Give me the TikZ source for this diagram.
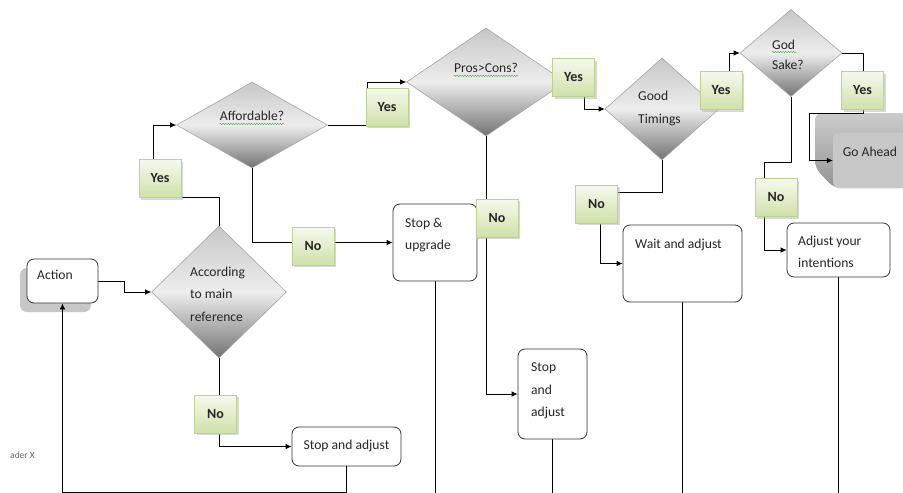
\documentclass[tikz,border=0pt]{standalone}
\usepackage{fontspec}
\setmainfont{Carlito}
\usetikzlibrary{shapes.geometric,arrows.meta,shadows,backgrounds,decorations.pathmorphing,calc}
\definecolor{labtop}{HTML}{F6F9EE}
\definecolor{labbot}{HTML}{CFE1A9}
\definecolor{labedge}{HTML}{BCD295}
\definecolor{squigc}{HTML}{3CA83C}
\begin{document}
\begin{tikzpicture}[x=1pt,y=-1pt,
  font=\fontsize{13.6}{22.5}\selectfont,
  conn/.style={draw=black, line width=0.8pt},
  arr/.style={conn, -{Latex[length=6pt,width=5.5pt]}},
  dia/.style={diamond, draw=black!35, line width=0.6pt, top color=black!22, bottom color=black!55, middle color=black!7, inner sep=0pt},
  lab/.style={draw=labedge, line width=0.6pt, top color=labtop, bottom color=labbot, minimum width=42pt, minimum height=38pt, inner sep=0pt, font=\fontsize{14}{15}\selectfont\bfseries, text=black!85,
    drop shadow={shadow xshift=2pt, shadow yshift=-2pt, fill=black!30, opacity=0.5}},
  box/.style={draw=black!80, line width=0.8pt, fill=white, rounded corners=7pt, inner sep=0pt},
  txt/.style={text=black!85, inner sep=0pt, align=left},
  squig/.style={draw=squigc, line width=0.4pt, decorate, decoration={snake, amplitude=0.6pt, segment length=2.6pt}}
]
\useasboundingbox (0,0) rectangle (903,493);

% ---------- boxes ----------
\node[box, minimum width=71pt, minimum height=44pt,
  drop shadow={shadow xshift=-7pt, shadow yshift=-9pt, fill=black!40, opacity=0.55}] (act) at (62.5,281) {};
\node[txt, anchor=west] (actt) at (37,275) {Action};

\node[box, minimum width=109pt, minimum height=39pt] (sa1) at (346.5,446.5) {};
\node[txt] (sa1t) at (346.5,446) {Stop and adjust};

\node[box, minimum width=84pt, minimum height=77pt] (sup) at (435,242.5) {};
\node[txt, anchor=west] (supt) at (405,235) {Stop \&\\upgrade};

\node[box, minimum width=69pt, minimum height=90pt] (sa2) at (552.5,394) {};
\node[txt, anchor=west] (sa2t) at (531,391) {Stop\\and\\adjust};

\node[box, minimum width=119pt, minimum height=77pt] (wa) at (682.5,263.5) {};
\node[txt, anchor=west] (wat) at (635,245) {Wait and adjust};

\node[box, minimum width=103pt, minimum height=54pt] (ay) at (838.5,250) {};
\node[txt, anchor=west] (ayt) at (798,252) {Adjust your\\intentions};

% ---------- Go Ahead block (front face) ----------
\node[fill=black!22, rounded corners=6pt, minimum width=76pt, minimum height=55pt, inner sep=0pt] (ga) at (871,160.5) {};
\node[txt] (gat) at (870,152) {Go Ahead};

% ---------- diamonds ----------
\node[dia, minimum width=135pt, minimum height=132pt] (d1) at (219,292) {};
\node[txt, anchor=west] (d1t) at (190,294) {According\\to main\\reference};

\node[dia, minimum width=151pt, minimum height=86pt] (d2) at (252,125) {};
\node[txt] (d2t) at (252,116) {Affordable?};

\node[dia, minimum width=159pt, minimum height=108pt] (d3) at (486,82) {};
\node[txt] (d3t) at (486,68) {Pros>Cons?};

\node[dia, minimum width=114pt, minimum height=102pt] (d4) at (662,109) {};
\node[txt, anchor=west] (d4t) at (638,108.5) {Good\\Timings};

\node[dia, minimum width=102pt, minimum height=87pt] (d5) at (791,53) {};
\node[txt, anchor=west, font=\fontsize{13.6}{20}\selectfont] (d5t) at (772,55) {God\\Sake?};

% spelling underlines
\draw[squig] ($(d2t.south west)+(0,3)$) -- ($(d2t.south east)+(0,3)$);
\draw[squig] ($(d3t.south west)+(0,3)$) -- ($(d3t.south east)+(0,3)$);
\draw[squig] (772,52) -- (797,52);

% ---------- labels ----------
\node[lab] (y1) at (160,178.5) {Yes};
\node[lab] (y2) at (387,107) {Yes};
\node[lab] (n2) at (313,246) {No};
\node[lab] (n1) at (215.5,414) {No};
\node[lab] (n3) at (497,218) {No};
\node[lab] (y3) at (573.5,77.5) {Yes};
\node[lab] (y4) at (721,90.5) {Yes};
\node[lab] (n4) at (596.5,204) {No};
\node[lab] (y5) at (862.5,90.5) {Yes};
\node[lab] (n5) at (776,197.5) {No};

% free ends at bottom edge
\coordinate (e1) at (435,493);
\coordinate (e2) at (552.5,493);
\coordinate (e3) at (682.5,493);
\coordinate (e4) at (838.5,493);

\node[anchor=west, inner sep=0pt, text=black!60, font=\fontsize{9.5}{10}\selectfont] (adx) at (10,455) {ader X};

% ---------- connectors ----------
\begin{scope}[on background layer]
% Go Ahead bevel (behind its connector)
\shade[top color=black!20, bottom color=black!42, rounded corners=7pt]
  (815,113) -- (908,113) -- (908,188) -- (834,188) -- (815,168) -- cycle;
\draw[arr] (act.east) -- ++(26,0) |- (d1.west);
\draw[arr] (d1.south) |- (sa1.west);
\draw[arr] (d1.north) |- (153,197) |- (d2.west);
\draw[arr] (d2.east) -- (367,125) |- (d3.west);
\draw[arr] (d2.south) |- (sup.west);
\draw[conn] (sup.south) -- (e1);
\draw[arr] (d3.south) |- (sa2.west);
\draw[conn] (sa2.south) -- (e2);
\draw[arr] (d3.east) -| ($(d4.west)+(-20,0)$) -- (d4.west);
\draw[arr] (d4.east) -| ($(d5.west)+(-10,0)$) -- (d5.west);
\draw[arr] (d4.south) |- (600,192) |- (wa.west);
\draw[conn] (wa.south) -- (e3);
\draw[arr] (d5.east) -| (863,113.5) -| ($(ga.west)+(-23,0)$) -- (ga.west);
\draw[arr] (d5.south) |- (764,162) |- (ay.west);
\draw[conn] (ay.south) -- (e4);
\end{scope}
\draw[arr] (sa1.south) |- ($(act.south)+(0,189)$) -- (act.south);
\end{tikzpicture}
\end{document}
